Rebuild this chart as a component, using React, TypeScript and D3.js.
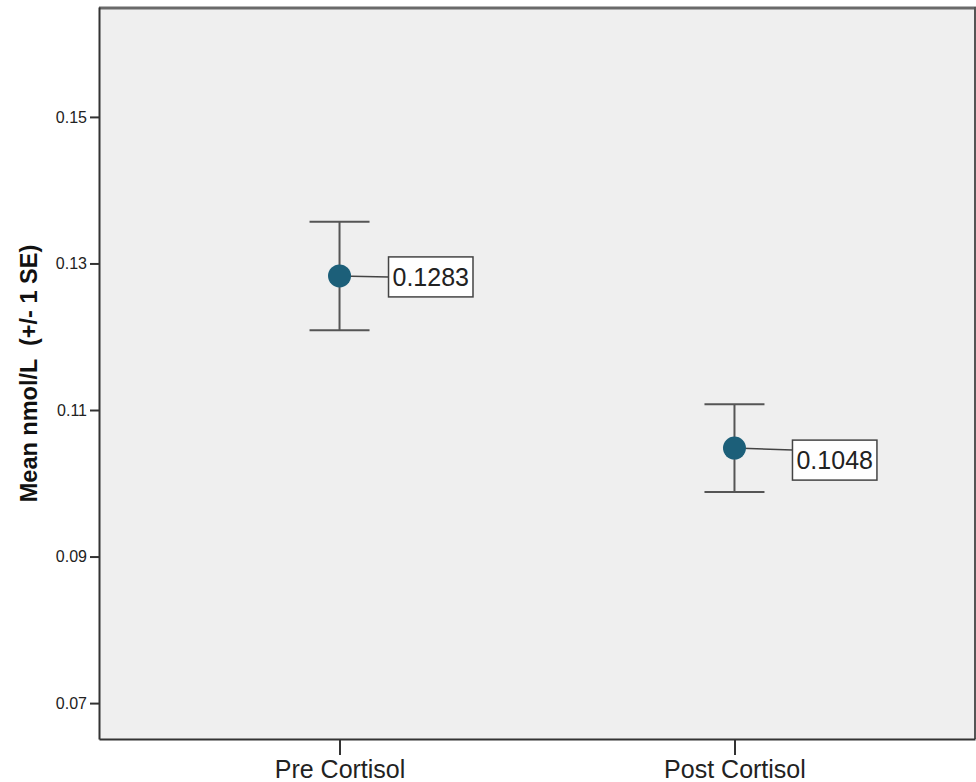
import React, { useEffect, useRef } from "react";
import * as d3 from "d3";

// Group means with one standard error
const categories = ["Pre Cortisol", "Post Cortisol"];
const means = [0.1283, 0.1048];
const standardErrors = [0.0074, 0.006];
const yTicks = [0.07, 0.09, 0.11, 0.13, 0.15];
const yDomain = [0.0651, 0.165];
const yTitle = "Mean nmol/L  (+/- 1 SE)";

// Placement of value callouts relative to their point
const calloutOffsets = [
  { dx: 49, dy: 1, leadDy: 1 },
  { dx: 58, dy: 12, leadDy: 2 },
];

const W = 976;
const H = 782;
const M = { left: 99, right: 975, top: 7, bottom: 739 };
const FONT = "'Liberation Sans', Arial, sans-serif";

export default function App() {
  const ref = useRef<SVGSVGElement | null>(null);

  useEffect(() => {
    const svg = d3.select(ref.current);
    svg.selectAll("*").remove();

    const x = d3
      .scalePoint<string>()
      .domain(categories)
      .range([M.left, M.right])
      .padding(0.609);
    const y = d3.scaleLinear().domain(yDomain).range([M.bottom, M.top]);

    // plot background and frame
    svg
      .append("rect")
      .attr("x", M.left)
      .attr("y", M.top)
      .attr("width", M.right - M.left)
      .attr("height", M.bottom - M.top)
      .attr("fill", "#efefef");
    svg
      .append("line")
      .attr("x1", M.left)
      .attr("x2", M.right + 1)
      .attr("y1", M.top + 1)
      .attr("y2", M.top + 1)
      .attr("stroke", "#6a6a6a")
      .attr("stroke-width", 3);
    svg
      .append("line")
      .attr("x1", M.right)
      .attr("x2", M.right)
      .attr("y1", M.top)
      .attr("y2", M.bottom)
      .attr("stroke", "#555")
      .attr("stroke-width", 2);

    // y axis
    const yAxis = svg
      .append("g")
      .attr("transform", `translate(${M.left},0)`)
      .call(
        d3
          .axisLeft(y)
          .tickValues(yTicks)
          .tickSize(9)
          .tickSizeOuter(0)
          .tickPadding(3)
          .tickFormat((d) => d3.format(".2f")(d as number))
      );
    yAxis.select(".domain").attr("stroke", "#333").attr("stroke-width", 2);
    yAxis.selectAll(".tick line").attr("stroke", "#333").attr("stroke-width", 2);
    yAxis
      .selectAll(".tick text")
      .attr("font-family", FONT)
      .attr("font-size", 16)
      .attr("fill", "#222");

    // x axis
    const xAxis = svg
      .append("g")
      .attr("transform", `translate(0,${M.bottom})`)
      .call(d3.axisBottom(x).tickSize(16).tickPadding(5).tickSizeOuter(0));
    xAxis.select(".domain").attr("stroke", "#333").attr("stroke-width", 2);
    xAxis.selectAll(".tick line").attr("stroke", "#333").attr("stroke-width", 2);
    xAxis
      .selectAll(".tick text")
      .attr("font-family", FONT)
      .attr("font-size", 25)
      .attr("fill", "#222");

    // y axis title
    svg
      .append("text")
      .attr("transform", `translate(37,373.5) rotate(-90)`)
      .attr("text-anchor", "middle")
      .attr("font-family", FONT)
      .attr("font-weight", "bold")
      .attr("font-size", 23.5)
      .attr("fill", "#111")
      .attr("xml:space", "preserve")
      .style("white-space", "pre")
      .text(yTitle);

    const g = svg.append("g");
    categories.forEach((c, i) => {
      const cx = x(c)!;
      const cy = y(means[i]);
      const hi = y(means[i] + standardErrors[i]);
      const lo = y(means[i] - standardErrors[i]);
      // error bar
      g.append("line")
        .attr("x1", cx)
        .attr("x2", cx)
        .attr("y1", hi)
        .attr("y2", lo)
        .attr("stroke", "#555")
        .attr("stroke-width", 2);
      [hi, lo].forEach((yy) =>
        g
          .append("line")
          .attr("x1", cx - 30)
          .attr("x2", cx + 30)
          .attr("y1", yy)
          .attr("y2", yy)
          .attr("stroke", "#555")
          .attr("stroke-width", 2)
      );

      // value callout
      const off = calloutOffsets[i];
      const bx = cx + off.dx;
      const bcy = cy + off.dy;
      g.append("line")
        .attr("x1", cx)
        .attr("y1", cy)
        .attr("x2", bx)
        .attr("y2", cy + off.leadDy)
        .attr("stroke", "#444")
        .attr("stroke-width", 1.5);
      const box = g.append("rect");
      const t = g
        .append("text")
        .attr("x", bx + 4)
        .attr("y", bcy)
        .attr("dy", "0.35em")
        .attr("font-family", FONT)
        .attr("font-size", 25)
        .attr("fill", "#222")
        .text(d3.format(".4f")(means[i]));
      const bb = (t.node() as SVGTextElement).getBBox();
      box
        .attr("x", bx)
        .attr("y", bcy - 20)
        .attr("width", bb.width + 8)
        .attr("height", 40)
        .attr("fill", "#fff")
        .attr("stroke", "#444")
        .attr("stroke-width", 1.5);

      // mean marker
      g.append("circle")
        .attr("cx", cx)
        .attr("cy", cy)
        .attr("r", 11.5)
        .attr("fill", "#1c5f79");
    });
  }, []);

  return (
    <svg
      ref={ref}
      width={W}
      height={H}
      style={{ position: "absolute", left: 0, top: 0, background: "#fff" }}
    />
  );
}
